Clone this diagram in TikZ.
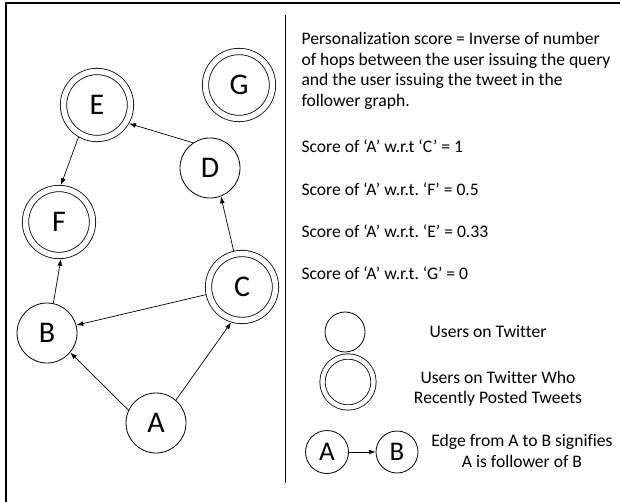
\documentclass[tikz,border=0pt]{standalone}
\usepackage{fontspec}
\setmainfont{Carlito}[Ligatures=NoCommon]
\usetikzlibrary{arrows.meta, positioning}

\begin{document}
\begin{tikzpicture}[
    x=1pt, y=-1pt,
    every node/.style={font=\fontsize{17.6}{20.6}\selectfont},
    user/.style={circle, draw, line width=0.8pt, minimum size=60pt, inner sep=0pt, font=\fontsize{30}{30}\selectfont},
    poster/.style={circle, draw, line width=0.8pt, double, double distance=5.5pt, minimum size=67pt, inner sep=0pt, outer sep=3.5pt, font=\fontsize{30}{30}\selectfont},
    arrow/.style={-{Latex[length=2.4mm, width=1.7mm]}, line width=0.7pt}
]
\useasboundingbox (0,0) rectangle (620,502);

% Frame and divider
\draw[line width=1.6pt] (6,502) -- (6,3) -- (620,3);
\coordinate (divtop) at (285,15);
\coordinate (divbot) at (285,483);
\draw[line width=0.9pt] (divtop) -- (divbot);

% Follower graph
\node[poster] (e) at (97,105) {E};
\node[poster] (g) at (239,85) {G};
\node[user] (d) at (210,168) {D};
\node[poster] (f) at (59,222) {F};
\node[poster] (c) at (242,287) {C};
\node[user] (b) at (47,333) {B};
\node[user] (a) at (156,423) {A};

\draw[arrow] (d.124) -- (e.-30);
\draw[arrow] (e.-120) -- (f.87);
\draw[arrow] (b.78) -- (f.-87);
\draw[arrow] (c.192) -- (b.15);
\draw[arrow] (a.155) -- (b.-40);
\draw[arrow] (a.49) -- (c.-107);
\draw[arrow] (c.103) -- (d.-69);

% Scores
\node[anchor=west, align=left] (def) at (298,71) {Personalization score = Inverse of number\\of hops between the user issuing the query\\and the user issuing the tweet in the\\follower graph.};
\node[anchor=west] (sc) at (298,146) {Score of ‘A’ w.r.t ‘C’ = 1};
\node[anchor=west] (sf) at (298,189) {Score of ‘A’ w.r.t.\ ‘F’ = 0.5};
\node[anchor=west] (se) at (298,231) {Score of ‘A’ w.r.t.\ ‘E’ = 0.33};
\node[anchor=west] (sg) at (298,273) {Score of ‘A’ w.r.t.\ ‘G’ = 0};

% Legend
\node[user, minimum size=40pt] (lu) at (345,332) {};
\node[poster, minimum size=51pt, double distance=4.5pt] (lp) at (348,382) {};
\node[user, minimum size=43pt, font=\fontsize{27}{27}\selectfont] (la) at (327,452) {A};
\node[user, minimum size=42pt, font=\fontsize{27}{27}\selectfont] (lb) at (397,452) {B};
\draw[arrow] (la) -- (lb);

\node (lutext) at (488,332) {Users on Twitter};
\node[align=center] (lptext) at (498,389) {Users on Twitter Who\\Recently Posted Tweets};
\node[align=center] (ledge) at (522,451) {Edge from A to B signifies\\A is follower of B};

\end{tikzpicture}
\end{document}
